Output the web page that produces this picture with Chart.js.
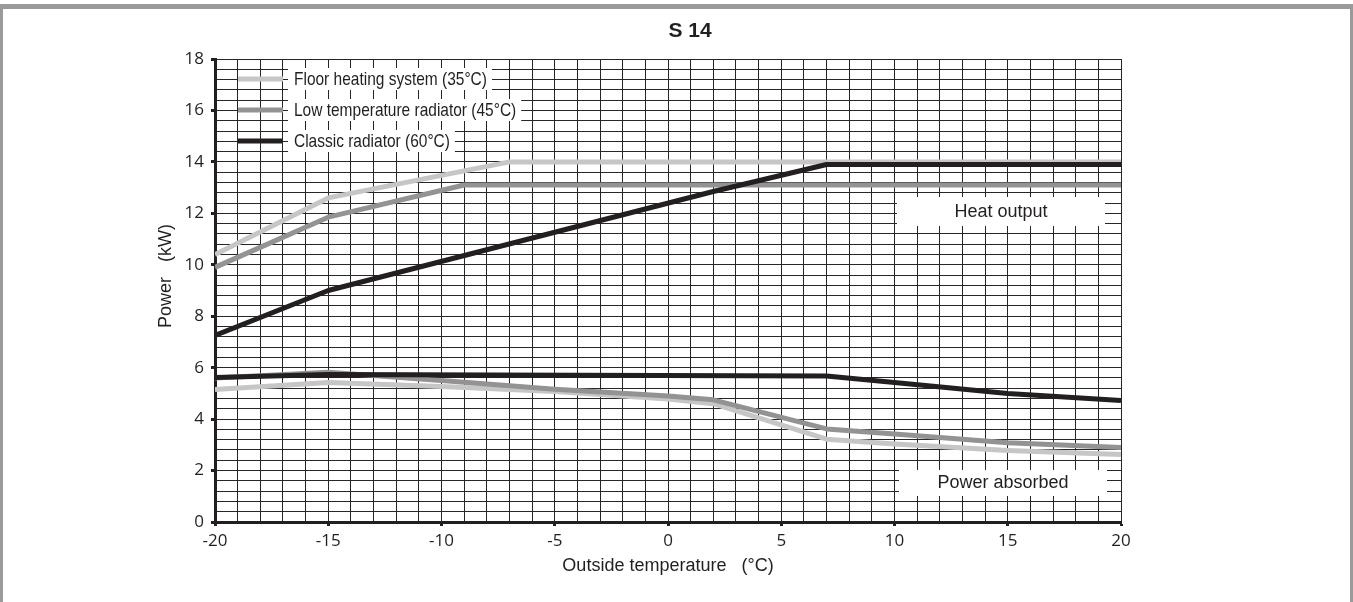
<!DOCTYPE html>
<html><head><meta charset="utf-8">
<script src="https://cdn.jsdelivr.net/npm/chart.js@4.4.0/dist/chart.umd.min.js"></script>
<style>
html,body{margin:0;padding:0;background:#fff;overflow:hidden;width:1353px;height:602px;}
#frame{position:absolute;left:0;top:4px;width:1353px;height:700px;box-sizing:border-box;border-top:5px solid #9a9a9a;border-left:3px solid #9a9a9a;border-right:3px solid #9a9a9a;}
#c{position:absolute;left:0;top:0;}
</style></head><body>
<div id="frame"></div>
<canvas id="c" width="1353" height="602"></canvas>
<script>
const chartTitle = 'S 14';
const xAxisTitle = 'Outside temperature   (°C)';
const yAxisTitle = 'Power   (kW)';
const seriesNames = ['Floor heating system (35°C)', 'Low temperature radiator (45°C)', 'Classic radiator (60°C)'];
const groupLabels = ['Heat output', 'Power absorbed'];

// Heat output (kW) vs outside temperature (°C)
const floorHeatT = [-20, -15, -7, 20];
const floorHeatP = [10.4, 12.6, 14.0, 14.0];
const lowHeatT = [-20, -15, -9, 20];
const lowHeatP = [9.9, 11.85, 13.1, 13.1];
const classicHeatT = [-20, -15, 2, 7, 20];
const classicHeatP = [7.25, 9.0, 12.85, 13.9, 13.9];

// Power absorbed (kW) vs outside temperature (°C)
const floorAbsT = [-20, -15, -10, -5, 0, 2, 7, 10, 15, 20];
const floorAbsP = [5.15, 5.42, 5.27, 5.07, 4.78, 4.6, 3.22, 3.03, 2.78, 2.62];
const lowAbsT = [-20, -15, -10, -5, 0, 2, 7, 10, 15, 20];
const lowAbsP = [5.6, 5.82, 5.5, 5.16, 4.9, 4.75, 3.62, 3.42, 3.08, 2.9];
const classicAbsT = [-20, -15, 7, 10, 15, 20];
const classicAbsP = [5.62, 5.73, 5.68, 5.42, 5.0, 4.72];

// Axis ticks
const xMin = -20, xMax = 20, xGridStep = 1, xLabelStep = 5;
const yMin = 0, yMax = 18, yGridStep = 0.4, yLabelStep = 2;

const colors = ['#c6c6c6', '#939393', '#231f20'];
const pts = (t, p) => t.map((x, i) => ({x, y: p[i]}));

function ds(label, t, p, idx) {
  return {label, data: pts(t, p), borderColor: colors[idx], backgroundColor: colors[idx],
    borderWidth: 5, pointRadius: 0, tension: 0, fill: false, order: 2 - idx,
    borderCapStyle: 'butt', borderJoinStyle: 'round'};
}

const isLabel = (v, step) => Math.abs(v / step - Math.round(v / step)) < 1e-6;

const decor = {
  id: 'decor',
  afterDatasetsDraw(chart) {
    const ctx = chart.ctx, a = chart.chartArea;
    ctx.save();
    ctx.fillStyle = '#231f20';
    ctx.textBaseline = 'middle';
    // Title
    ctx.font = 'bold 21px "Liberation Sans", Arial, sans-serif';
    ctx.textAlign = 'center';
    ctx.fillText(chartTitle, 690, 31);
    // Axis titles
    ctx.font = '18px "Liberation Sans", Arial, sans-serif';
    ctx.fillText(xAxisTitle, (a.left + a.right) / 2, 566);
    ctx.save();
    ctx.translate(166, 276);
    ctx.rotate(-Math.PI / 2);
    ctx.fillText(yAxisTitle, 0, 0);
    ctx.restore();
    // Group label boxes
    const boxes = [[897, 197, 208, 29, 1001, 212], [899, 470, 208, 26, 1003, 483]];
    boxes.forEach((b, i) => {
      ctx.fillStyle = '#ffffff';
      ctx.fillRect(b[0], b[1], b[2], b[3]);
      ctx.fillStyle = '#231f20';
      ctx.textAlign = 'center';
      ctx.fillText(groupLabels[i], b[4], b[5]);
    });
    // Legend
    const rows = [79, 110, 141];
    const sx = 0.815;
    ctx.font = '19px "Liberation Sans", Arial, sans-serif';
    ctx.textAlign = 'left';
    chart.data.datasets.slice(0, 3).forEach((d, i) => {
      const y = rows[i];
      const w = ctx.measureText(d.label).width * sx;
      ctx.fillStyle = '#ffffff';
      ctx.fillRect(288, y - 11, w + 11, 22);
      ctx.strokeStyle = d.borderColor;
      ctx.lineWidth = 5;
      ctx.beginPath();
      ctx.moveTo(238, y);
      ctx.lineTo(283, y);
      ctx.stroke();
      ctx.fillStyle = '#231f20';
      ctx.save();
      ctx.translate(294, y + 1);
      ctx.scale(sx, 1);
      ctx.fillText(d.label, 0, 0);
      ctx.restore();
    });
    ctx.restore();
  }
};

new Chart(document.getElementById('c'), {
  type: 'line',
  data: {
    datasets: [
      ds(seriesNames[0], floorHeatT, floorHeatP, 0),
      ds(seriesNames[1], lowHeatT, lowHeatP, 1),
      ds(seriesNames[2], classicHeatT, classicHeatP, 2),
      ds(seriesNames[0] + ' ', floorAbsT, floorAbsP, 0),
      ds(seriesNames[1] + ' ', lowAbsT, lowAbsP, 1),
      ds(seriesNames[2] + ' ', classicAbsT, classicAbsP, 2)
    ]
  },
  options: {
    responsive: false,
    animation: false,
    layout: {padding: {left: 0, right: 232, top: 59, bottom: 0}},
    plugins: {legend: {display: false}, title: {display: false}, tooltip: {enabled: false}},
    scales: {
      x: {
        type: 'linear', min: xMin, max: xMax,
        afterFit(s) { s.height = 80; },
        border: {color: '#231f20', width: 3},
        grid: {color: '#262626', lineWidth: 1, tickLength: 4, tickWidth: 3,
          tickColor: c => isLabel(c.tick.value, xLabelStep) ? '#231f20' : 'rgba(0,0,0,0)'},
        ticks: {stepSize: xGridStep, autoSkip: false, maxRotation: 0, padding: 5, color: '#231f20',
          font: {family: '"Open Sans", sans-serif', size: 17},
          callback: v => isLabel(v, xLabelStep) ? String(Math.round(v)) : ''}
      },
      y: {
        type: 'linear', min: yMin, max: yMax,
        afterFit(s) { s.width = 215; },
        border: {color: '#231f20', width: 3},
        grid: {color: '#262626', lineWidth: 1, tickLength: 4, tickWidth: 3,
          tickColor: c => isLabel(c.tick.value, yLabelStep) ? '#231f20' : 'rgba(0,0,0,0)'},
        ticks: {stepSize: yGridStep, autoSkip: false, padding: 7, color: '#231f20',
          font: {family: '"Open Sans", sans-serif', size: 17},
          callback: v => isLabel(v, yLabelStep) ? String(Math.round(v)) : ''}
      }
    }
  },
  plugins: [decor]
});
</script>
</body></html>
